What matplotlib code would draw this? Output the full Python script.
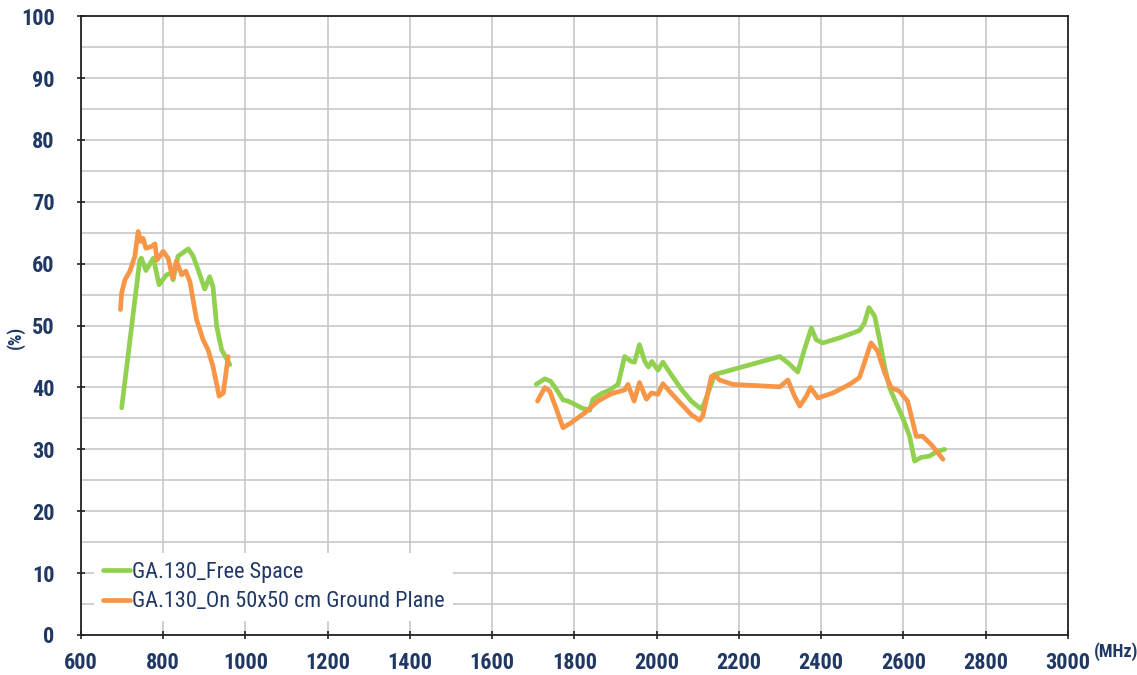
import matplotlib
matplotlib.use('Agg')
import matplotlib.pyplot as plt
from matplotlib import ticker

# low band
free_lo_f = [699, 743, 747, 758, 776, 790, 808, 820, 824, 836, 861, 873, 885, 901, 913, 921, 930, 942, 962]
free_lo_v = [36.7, 60.6, 60.9, 58.9, 60.9, 56.6, 58.2, 58.5, 57.4, 61.2, 62.4, 61.2, 59.0, 55.9, 57.9, 56.3, 49.9, 46.1, 43.7]
gp_lo_f = [696, 699, 707, 719, 731, 739, 745, 751, 758, 772, 780, 785, 800, 812, 823, 832, 845, 855, 865,
           881, 897, 909, 921, 936, 946, 958]
gp_lo_v = [52.6, 55.3, 57.4, 58.8, 61.2, 65.2, 63.6, 64.1, 62.5, 62.8, 63.2, 60.6, 62.0, 60.9, 57.7, 60.4,
           58.2, 58.8, 57.1, 51.0, 47.7, 46.1, 43.4, 38.6, 39.1, 45.0]

# high band
free_hi_f = [1707, 1728, 1742, 1756, 1772, 1784, 1800, 1817, 1837, 1845, 1865, 1886, 1906, 1922, 1938, 1946,
             1958, 1971, 1980, 1988, 2003, 2015, 2035, 2060, 2084, 2108, 2116, 2141, 2185, 2299, 2319, 2343,
             2359, 2376, 2388, 2404, 2444, 2493, 2505, 2516, 2530, 2542, 2554, 2566, 2582, 2598, 2615, 2627,
             2643, 2663, 2683, 2700]
free_hi_v = [40.5, 41.4, 41.0, 39.7, 38.0, 37.8, 37.3, 36.7, 36.3, 38.1, 39.0, 39.6, 40.5, 45.0, 44.2, 44.1,
             46.9, 44.2, 43.3, 44.2, 42.8, 44.1, 42.1, 39.7, 37.8, 36.5, 37.5, 42.1, 42.9, 45.0, 44.0, 42.5,
             46.1, 49.6, 47.7, 47.2, 48.0, 49.2, 50.4, 52.9, 51.5, 47.7, 43.4, 40.0, 37.5, 35.1, 32.1, 28.1,
             28.7, 28.9, 29.7, 30.0]
gp_hi_f = [1710, 1728, 1740, 1756, 1772, 1792, 1825, 1857, 1890, 1922, 1930, 1945, 1958, 1975, 1987, 2003,
           2015, 2035, 2060, 2084, 2104, 2112, 2133, 2141, 2153, 2185, 2299, 2319, 2335, 2348, 2364, 2374,
           2392, 2428, 2469, 2493, 2505, 2521, 2537, 2554, 2570, 2590, 2610, 2623, 2631, 2647, 2667, 2683, 2696]
gp_hi_v = [37.8, 40.0, 39.4, 36.5, 33.5, 34.3, 35.9, 37.8, 39.0, 39.6, 40.5, 37.8, 40.8, 38.1, 39.1, 38.9,
           40.6, 39.1, 37.3, 35.6, 34.7, 35.4, 41.8, 42.0, 41.2, 40.5, 40.1, 41.2, 38.6, 37.0, 38.6, 40.0,
           38.3, 39.1, 40.5, 41.6, 44.0, 47.2, 45.9, 42.4, 40.0, 39.4, 37.8, 34.3, 32.1, 32.1, 30.8, 29.5, 28.4]

labels = ['GA.130_Free Space', 'GA.130_On 50x50 cm Ground Plane']
green = '#92D050'
orange = '#F79646'
navy = '#1F3864'
narrow = ['Liberation Sans Narrow', 'DejaVu Sans Condensed', 'Roboto Condensed', 'Liberation Sans']

fig = plt.figure(figsize=(11.37, 6.75), dpi=100)
ax = fig.add_axes([0.0712, 0.0593, 0.8681, 0.9167])

ax.plot(free_lo_f, free_lo_v, color=green, lw=3.4, label=labels[0], solid_capstyle='round')
ax.plot(gp_lo_f, gp_lo_v, color=orange, lw=3.4, label=labels[1], solid_capstyle='round')
ax.plot(free_hi_f, free_hi_v, color=green, lw=3.4, solid_capstyle='round')
ax.plot(gp_hi_f, gp_hi_v, color=orange, lw=3.4, solid_capstyle='round')

ax.set_xlim(600, 3000)
ax.set_ylim(0, 100)
ax.xaxis.set_major_locator(ticker.MultipleLocator(200))
ax.yaxis.set_major_locator(ticker.MultipleLocator(10))
ax.yaxis.set_minor_locator(ticker.MultipleLocator(5))
ax.grid(True, which='both', color='#C8C8C8', lw=1.2)
ax.set_axisbelow(True)
for s in ax.spines.values():
    s.set_color('#222222')
    s.set_linewidth(1.3)
ax.tick_params(which='major', direction='inout', length=6, width=1.2, color='#222222')
ax.tick_params(which='minor', length=0)
ax.tick_params(axis='y', pad=16)
ax.tick_params(axis='x', pad=9)
for lab in ax.get_xticklabels() + ax.get_yticklabels():
    lab.set_family(narrow)
    lab.set_fontsize(16)
    lab.set_fontweight('bold')
    lab.set_color(navy)

fig.text(0.962, 0.035, '(MHz)', family=narrow, fontsize=13, fontweight='bold', color=navy,
         ha='left', va='center')
fig.text(0.014, 0.50, '(%)', family=narrow, fontsize=13, fontweight='bold', color=navy,
         ha='center', va='center', rotation=90)

leg = ax.legend(loc='lower left', bbox_to_anchor=(0.002, 0.004), frameon=True, fancybox=False,
                edgecolor='none', facecolor='white', framealpha=1, handlelength=1.2,
                handletextpad=0.1, borderpad=0.4, labelspacing=0.4,
                prop={'family': narrow, 'size': 16})
for t in leg.get_texts():
    t.set_color(navy)

plt.savefig('out.png', dpi=100)
